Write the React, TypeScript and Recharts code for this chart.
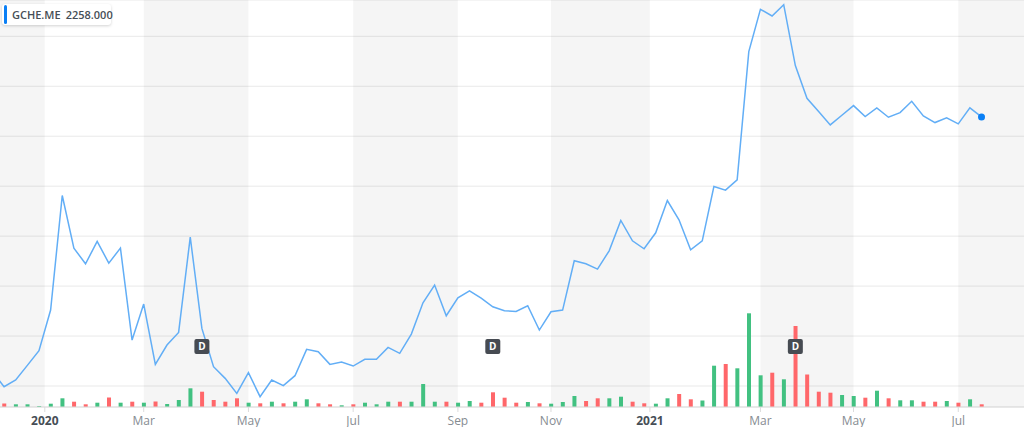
import React from 'react';
import { ComposedChart, Line, Bar, Cell, XAxis, YAxis, CartesianGrid, ReferenceArea, ReferenceDot } from 'recharts';

const symbol = 'GCHE.ME';
const lastQuote = 2258.0;

// weekly closes; the first one is the week before the visible window
const closes = [
  1492, 1448, 1468, 1512, 1556, 1678, 2022, 1864, 1817, 1884, 1819, 1864, 1588, 1696, 1515, 1573,
  1611, 1897, 1623, 1508, 1473, 1428, 1490, 1418, 1468, 1451, 1481, 1560, 1553, 1515, 1522, 1510,
  1530, 1530, 1566, 1548, 1606, 1700, 1753, 1661, 1715, 1736, 1714, 1688, 1676, 1674, 1691, 1618,
  1673, 1678, 1826, 1817, 1801, 1856, 1947, 1886, 1862, 1910, 2007, 1949, 1859, 1886, 2049, 2038,
  2069, 2454, 2581, 2561, 2595, 2412, 2314, 2274, 2234, 2263, 2292, 2259, 2285, 2257, 2271, 2305,
  2261, 2241, 2255, 2237, 2285, 2258,
];

// weekly volume (thousand shares)
const volumes = [
  null, 3.5, 2.7, 2.7, 1, 3.3, 8.7, 5.3, 2.7, 4.3, 9.5, 4.3, 5.3, 4.3, 5.5, 3, 7, 18.7, 15.3, 7,
  5.3, 8.7, 4.3, 3.7, 5.3, 3.7, 5.3, 7.7, 3.7, 2.7, 1.7, 2.7, 4.3, 2.7, 5.3, 5.3, 5.3, 23, 5.3,
  5.3, 4.3, 6, 4.3, 14.7, 9.3, 4.3, 5, 3.7, 3.3, 5, 11, 6, 8.7, 8.7, 10.3, 5.3, 3.7, 3.3, 8.7, 13,
  7.7, 6.5, 41.3, 43, 38.7, 93.7, 31.7, 34.3, 27.7, 81, 32.5, 15.3, 14.3, 12, 11, 9.3, 16.3, 8.7,
  6.7, 6.7, 5.3, 5.3, 6, 4.3, 7.7, 2.7,
];

const tickWeeks = [3.5, 12, 21, 30, 39, 47, 55.5, 65, 73, 82];
const tickLabels = ['2020', 'Mar', 'May', 'Jul', 'Sep', 'Nov', '2021', 'Mar', 'May', 'Jul'];
const yearLabels = ['2020', '2021'];
const weekDomain = [-0.35, 87.65];
const shadedBands = [[-0.35, 3.5], [12, 21], [30, 39], [47, 55.5], [65, 73], [82, 87.65]];
const dividendWeeks = [17, 42, 68];
const dividendLevel = 1569;
const priceTicks = [1450, 1600, 1750, 1900, 2050, 2200, 2350, 2500];

const data = closes.map((close, k) => ({
  week: k - 1,
  close,
  volume: volumes[k],
  up: k === 0 ? true : close >= closes[k - 1],
}));

const FONT = "'Open Sans', sans-serif";

const AxisTick = (props: any) => {
  const { x, y, payload } = props;
  const label = tickLabels[tickWeeks.indexOf(payload.value)];
  const isYear = yearLabels.includes(label);
  return (
    <text
      x={x}
      y={y}
      dy={10.5}
      textAnchor="middle"
      fontFamily={FONT}
      fontSize={12}
      fontWeight={isYear ? 700 : 400}
      fill={isYear ? '#464e56' : '#868c92'}
    >
      {label}
    </text>
  );
};

const LastDot = (props: any) => {
  const { cx, cy, index } = props;
  if (index !== data.length - 1) return <g key={`d-${index}`} />;
  return <circle key={`d-${index}`} cx={cx} cy={cy} r={3.5} fill="#0a7ff5" />;
};

const DividendFlag = (props: any) => {
  const { cx, cy } = props;
  return (
    <g>
      <rect x={cx - 7.5} y={cy - 7.5} width={15} height={15} rx={2} fill="#464b52" />
      <text x={cx} y={cy + 4} textAnchor="middle" fontFamily={FONT} fontSize={10} fontWeight={700} fill="#fff">
        D
      </text>
    </g>
  );
};

export default function App() {
  return (
    <div style={{ position: 'absolute', left: 0, top: 0, width: 1024, height: 427, background: '#fff' }}>
      <ComposedChart width={1024} height={427} data={data} margin={{ top: 0, right: 0, bottom: 0, left: 0 }}>
        {shadedBands.map(([a, b], i) => (
          <ReferenceArea key={i} x1={a} x2={b} yAxisId="price" fill="#000" fillOpacity={0.04} stroke="none" />
        ))}
        <CartesianGrid yAxisId="price" vertical={false} stroke="#e9e9e9" />
        <XAxis
          dataKey="week"
          type="number"
          domain={weekDomain}
          allowDataOverflow
          ticks={tickWeeks}
          tick={<AxisTick />}
          tickSize={5}
          height={20}
          interval={0}
          stroke="#dcdcdc"
        />
        <YAxis yAxisId="price" hide domain={[1387, 2609]} ticks={priceTicks} allowDataOverflow />
        <YAxis yAxisId="vol" hide domain={[0, 407]} allowDataOverflow />
        <Bar yAxisId="vol" dataKey="volume" barSize={4} isAnimationActive={false}>
          {data.map((d, i) => (
            <Cell key={i} fill={d.up ? '#42c181' : '#ff676a'} />
          ))}
        </Bar>
        <Line
          yAxisId="price"
          type="linear"
          dataKey="close"
          stroke="#62aef6"
          strokeWidth={1.5}
          dot={<LastDot />}
          activeDot={false}
          isAnimationActive={false}
        />
        {dividendWeeks.map((w) => (
          <ReferenceDot key={w} x={w} y={dividendLevel} yAxisId="price" r={7} shape={<DividendFlag />} />
        ))}
      </ComposedChart>
      <div
        style={{
          position: 'absolute',
          left: 2,
          top: 4,
          width: 109,
          height: 21,
          background: '#fff',
          borderRadius: 3,
          boxShadow: '0 1px 3px rgba(0,0,0,0.18)',
          fontFamily: FONT,
          fontSize: 11,
          fontWeight: 600,
          color: '#464e56',
          display: 'flex',
          alignItems: 'center',
        }}
      >
        <div style={{ position: 'absolute', left: 1.5, top: 1, width: 3.5, height: 19, borderRadius: 2, background: '#0a7ff5' }} />
        <span style={{ marginLeft: 10 }}>{symbol}</span>
        <span style={{ marginLeft: 5 }}>{lastQuote.toFixed(3)}</span>
      </div>
    </div>
  );
}
